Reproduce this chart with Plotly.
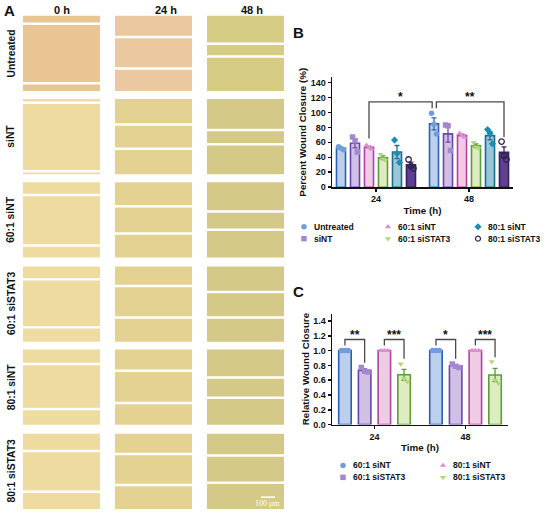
import numpy as np
import plotly.graph_objects as go

W, H = 550, 517
FONT = "Liberation Sans, Arial, Helvetica, sans-serif"

# ---------------- Data: panel B (Percent Wound Closure, 3 replicates) ----------------
b_times = ["24", "48"]
b_groups = ["Untreated", "siNT", "60:1 siNT", "60:1 siSTAT3", "80:1 siNT", "80:1 siSTAT3"]
b_untreated = [[54, 52, 50], [99, 84, 71]]
b_sint = [[67, 62, 47], [83, 82, 49]]
b_60_sint = [[56, 53, 51], [72, 69, 67]]
b_60_sistat3 = [[44, 38, 36], [60, 54, 52]]
b_80_sint = [[63, 45, 33], [77, 72, 58]]
b_80_sistat3 = [[37, 28, 25], [61, 42, 37]]
b_values = [b_untreated, b_sint, b_60_sint, b_60_sistat3, b_80_sint, b_80_sistat3]
b_yticks = [0, 20, 40, 60, 80, 100, 120, 140]

# ---------------- Data: panel C (Relative Wound Closure) ----------------
c_times = ["24", "48"]
c_groups = ["60:1 siNT", "60:1 siSTAT3", "80:1 siNT", "80:1 siSTAT3"]
c_60_sint = [[1.0, 1.0, 1.0], [1.0, 1.0, 1.0]]
c_60_sistat3 = [[0.77, 0.72, 0.71], [0.82, 0.79, 0.77]]
c_80_sint = [[1.0, 1.0, 1.0], [1.0, 1.0, 1.0]]
c_80_sistat3 = [[0.82, 0.62, 0.58], [0.85, 0.60, 0.56]]
c_values = [c_60_sint, c_60_sistat3, c_80_sint, c_80_sistat3]
c_yticks = [0.0, 0.2, 0.4, 0.6, 0.8, 1.0, 1.2, 1.4]

# significance: (time index, group a, group b, label)
b_sig = [((0, 2), (1, 0), "*"), ((1, 0), (1, 5), "**")]
c_sig = [((0, 0), (0, 1), "**"), ((0, 2), (0, 3), "***"),
         ((1, 0), (1, 1), "*"), ((1, 2), (1, 3), "***")]

# ---------------- Styles ----------------
st_fill = {"blue": "#bccfec", "lav": "#d0c1e4", "pink": "#efcbe6", "green": "#ddecc1",
           "teal": "#98c7d8", "dpur": "#5e3f93"}
st_line = {"blue": "#2d60b0", "lav": "#6a45a9", "pink": "#b2439f", "green": "#5b9c3b",
           "teal": "#1f6c88", "dpur": "#36205f"}
st_pt = {"blue": "#729ddc", "lav": "#a487cf", "pink": "#dc8ed0", "green": "#b4d779",
         "teal": "#1a8db6", "dpur": "#2f2450"}
b_style = [("blue", "circle"), ("lav", "square"), ("pink", "triangle-up"),
           ("green", "triangle-down"), ("teal", "diamond"), ("dpur", "circle-open")]
c_style = [("blue", "circle"), ("lav", "square"), ("pink", "triangle-up"), ("green", "triangle-down")]


def px(x):
    return x / W


def py(y):
    return 1 - y / H


fig = go.Figure()


def add_panel(values, style, xa, ya, pitch, bw):
    n = len(values)
    xs_all = []
    for g, reps in enumerate(values):
        key, sym = style[g]
        xs = [t + (g - (n - 1) / 2) * pitch for t in range(len(reps))]
        xs_all.append(xs)
        means = [float(np.mean(r)) for r in reps]
        sems = [float(np.std(r, ddof=1) / np.sqrt(len(r))) for r in reps]
        fig.add_trace(go.Bar(
            x=xs, y=means, width=bw, xaxis=xa, yaxis=ya, showlegend=False,
            marker=dict(color=st_fill[key], line=dict(color=st_line[key], width=1.6)),
            error_y=dict(type="data", array=sems, color=st_line[key], thickness=1.3, width=2.5),
        ))
        jit = [-0.27, 0.0, 0.27]
        px_ = [xs[t] + jit[i] * bw for t, r in enumerate(reps) for i in range(len(r))]
        py_ = [v for r in reps for v in r]
        open_ = sym.endswith("open")
        fig.add_trace(go.Scatter(
            x=px_, y=py_, mode="markers", xaxis=xa, yaxis=ya, showlegend=False,
            marker=dict(symbol=sym, size=5.5 if open_ else 5.5, color=st_pt[key],
                        line=dict(color=st_pt[key], width=1.3 if open_ else 0)),
        ))
    return xs_all


b_x = add_panel(b_values, b_style, "x", "y", 0.1505, 0.097)
c_x = add_panel(c_values, c_style, "x2", "y2", 0.2165, 0.137)

shapes = []
annotations = []


def note(x, y, text, size, xanchor="center", yanchor="middle", angle=0, color="#111",
         family=FONT, weight="bold", xref="paper", yref="paper"):
    annotations.append(dict(x=x, y=y, xref=xref, yref=yref, text=text, showarrow=False,
                            xanchor=xanchor, yanchor=yanchor, textangle=angle,
                            font=dict(size=size, family=family, color=color, weight=weight)))


# ---------- significance brackets ----------
def bracket(xs_all, sig, xref, yref, level, legs, star_y, nudge):
    for k, ((ta, ga), (tb, gb), lab) in enumerate(sig):
        x0 = xs_all[ga][ta] + nudge[k][0]
        x1 = xs_all[gb][tb] + nudge[k][1]
        y0, y1 = legs[k]
        shapes.append(dict(type="path", xref=xref, yref=yref,
                           path=f"M {x0},{y0} L {x0},{level} L {x1},{level} L {x1},{y1}",
                           line=dict(color="#4a4a4a", width=1.3)))
        note((x0 + x1) / 2, star_y, lab, 12, xref=xref, yref=yref)


bracket(b_x, b_sig, "x", "y", 114, [(65, 105.5), (105.5, 67)], 120.5, [(0, -0.02), (0.025, 0)])
bracket(c_x, c_sig, "x2", "y2", 1.15, [(1.07, 0.835), (1.07, 0.89), (1.07, 0.89), (1.07, 0.91)], 1.205,
        [(0, 0)] * 4)

# ---------- panel A : microscopy tiles ----------
row_labels = ["Untreated", "siNT", "60:1 siNT", "60:1 siSTAT3", "80:1 siNT", "80:1 siSTAT3"]
col_labels = ["0 h", "24 h", "48 h"]
row_top = [16, 100, 184, 269, 353, 438]
col_left = [23, 115, 207]
tile_w, tile_h = 77, 76
edge_frac = [
    [(0.105, 0.895), (0.28, 0.70), (0.37, 0.54)],
    [(0.05, 0.96), (0.34, 0.66), (0.41, 0.60)],
    [(0.17, 0.84), (0.32, 0.68), (0.39, 0.63)],
    [(0.17, 0.81), (0.26, 0.68), (0.34, 0.68)],
    [(0.19, 0.79), (0.28, 0.71), (0.37, 0.64)],
    [(0.23, 0.77), (0.27, 0.68), (0.29, 0.65)],
]
tile_col_row1 = ["#e8c592", "#ebc8a0", "#d6cc84"]
tile_col = ["#eedb9f", "#e4d292", "#d4c987"]
for r in range(6):
    for c in range(3):
        x0, y0 = col_left[c], row_top[r]
        col = tile_col_row1[c] if r == 0 else tile_col[c]
        shapes.append(dict(type="rect", xref="paper", yref="paper", layer="below",
                           x0=px(x0), x1=px(x0 + tile_w), y0=py(y0 + tile_h), y1=py(y0),
                           fillcolor=col, line=dict(width=0)))
        for f in edge_frac[r][c]:
            yy = y0 + f * tile_h
            shapes.append(dict(type="line", xref="paper", yref="paper", layer="below",
                               x0=px(x0), x1=px(x0 + tile_w), y0=py(yy), y1=py(yy),
                               line=dict(color="white", width=2.5)))
    note(px(11), py(row_top[r] + tile_h / 2), row_labels[r], 10.3, angle=-90)
for lab, cx in zip(col_labels, [62, 166, 252]):
    note(px(cx), py(10), lab, 11)

# scale bar
shapes.append(dict(type="line", xref="paper", yref="paper", x0=px(261), x1=px(275), y0=py(502), y1=py(502),
                   line=dict(color="white", width=1.5)))
note(px(267), py(508.5), "100 μm", 8, color="white", weight="normal",
     family="Liberation Serif, DejaVu Serif, serif")

# panel letters
for lab, (lx, ly) in zip(["A", "B", "C"], [(9, 11), (299, 33), (299, 294)]):
    note(px(lx), py(ly), lab, 15)

# ---------- manual legends (pixel overlay axis) ----------
leg_b_pos = [(304, 229), (304, 241), (388, 229), (388, 241), (478, 229), (478, 241)]
leg_c_pos = [(343, 470), (343, 482), (443, 470), (443, 482)]


def legend(groups, style, pos, gap):
    for g, (lx, ly) in enumerate(pos):
        key, sym = style[g]
        open_ = sym.endswith("open")
        fig.add_trace(go.Scatter(x=[lx], y=[ly], mode="markers", xaxis="x3", yaxis="y3", showlegend=False,
                                 hoverinfo="skip",
                                 marker=dict(symbol=sym, size=5 if open_ else 5.5, color=st_pt[key],
                                             line=dict(color=st_pt[key], width=1.2 if open_ else 0))))
        note(px(lx + gap), py(ly), groups[g], 8.5, xanchor="left")


legend(b_groups, b_style, leg_b_pos, 8)
legend(c_groups, c_style, leg_c_pos, 8)

axis_common = dict(showline=True, linecolor="#111", linewidth=1.5, ticks="outside", ticklen=3,
                   tickwidth=1.5, tickcolor="#111", showgrid=False, zeroline=False,
                   tickfont=dict(size=9, family=FONT, color="#111", weight="bold"))
title_font = dict(size=9.8, family=FONT, color="#111", weight="bold")

fig.update_layout(
    width=W, height=H, margin=dict(l=0, r=0, t=0, b=0),
    paper_bgcolor="white", plot_bgcolor="rgba(0,0,0,0)",
    barmode="overlay", showlegend=False, hovermode=False,
    shapes=shapes, annotations=annotations,
    xaxis=dict(domain=[px(332), px(513)], range=[-0.473, 1.473], anchor="y",
               tickvals=[0, 1], ticktext=b_times,
               title=dict(text="Time (h)", font=title_font, standoff=3), **axis_common),
    yaxis=dict(domain=[py(189), py(78)], range=[0, 147], anchor="x", tickvals=b_yticks,
               title=dict(text="Percent Wound Closure (%)", font=title_font, standoff=2), **axis_common),
    xaxis2=dict(domain=[px(332), px(508)], range=[-0.467, 1.467], anchor="y2",
                tickvals=[0, 1], ticktext=c_times,
                title=dict(text="Time (h)", font=title_font, standoff=3), **axis_common),
    yaxis2=dict(domain=[py(428.7), py(316.7)], range=[0, 1.5], anchor="x2", tickvals=c_yticks,
                tickformat=".1f",
                title=dict(text="Relative Wound Closure", font=title_font, standoff=2), **axis_common),
    xaxis3=dict(domain=[0, 1], range=[0, W], anchor="y3", visible=False, fixedrange=True),
    yaxis3=dict(domain=[0, 1], range=[H, 0], anchor="x3", visible=False, fixedrange=True),
)

fig.write_html("out.html", config={"displayModeBar": False, "staticPlot": True},
               post_script="document.body.style.margin='0';document.body.style.overflow='hidden';")
